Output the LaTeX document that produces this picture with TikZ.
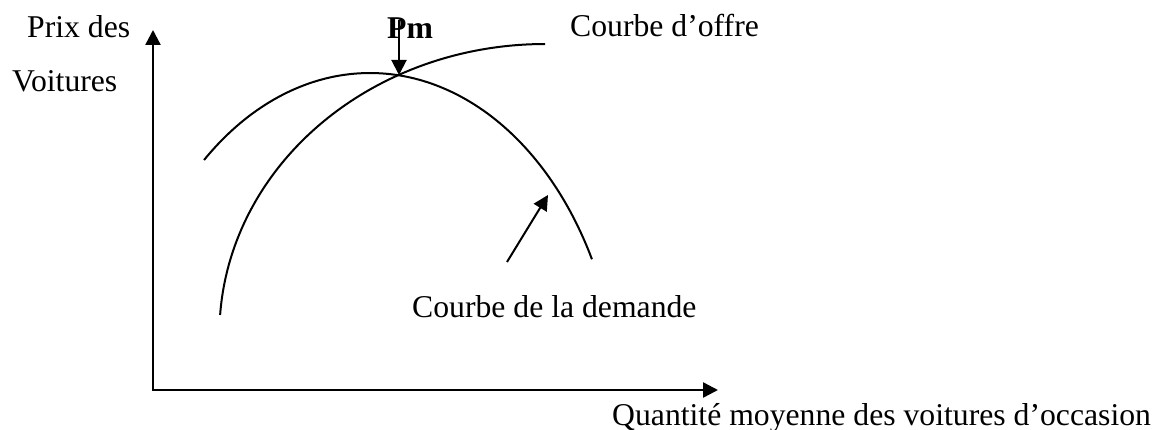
\documentclass[tikz,border=0pt]{standalone}
\usepackage{fontspec}
\setmainfont{Liberation Serif}[Ligatures=NoCommon]
\usetikzlibrary{arrows.meta}
\begin{document}
\begin{tikzpicture}[x=1pt,y=-1pt,
  lbl/.style={inner sep=0pt, anchor=base west, font=\fontsize{31.7}{38}\selectfont},
  axis/.style={line width=2.4pt, {Triangle[length=15pt,width=15pt]}-{Triangle[length=15pt,width=15pt]}},
  curve/.style={line width=2pt},
  ptr/.style={line width=2pt, -{Triangle[length=15pt,width=15pt]}}]
\useasboundingbox (0,0) rectangle (1159,430);
% axes
\coordinate (O) at (153,390);
\coordinate (Ytip) at (153,30);
\coordinate (Xtip) at (718,390);
\draw[axis] (Ytip) -- (O) -- (Xtip);
% demand curve
\draw[curve] plot[domain=228.4:332.6, samples=100, variable=\t] ({370+250*cos(\t)}, {418+345*sin(\t)});
% supply curve
\draw[curve] plot[domain=183.76:270, samples=100, variable=\t] ({545+325.6*cos(\t)}, {334+290*sin(\t)});
% Pm arrow
\coordinate (Ptop) at (399,20);
\coordinate (E) at (399,75);
\draw[ptr] (Ptop) -- (E);
% demand pointer
\coordinate (Dtail) at (507,262);
\coordinate (Dtip) at (548,195);
\draw[ptr] (Dtail) -- (Dtip);
% labels
\node[lbl] (prix) at (27,38) {Prix des};
\node[lbl] (voit) at (12,92) {Voitures};
\node[lbl, font=\fontsize{31.7}{38}\selectfont\bfseries] (pm) at (387,39) {Pm};
\node[lbl] (offre) at (570,37) {Courbe d’offre};
\node[lbl] (dem) at (412,317) {Courbe de la demande};
\node[lbl] (qte) at (612,425) {Quantité moyenne des voitures d’occasion};
\end{tikzpicture}
\end{document}
